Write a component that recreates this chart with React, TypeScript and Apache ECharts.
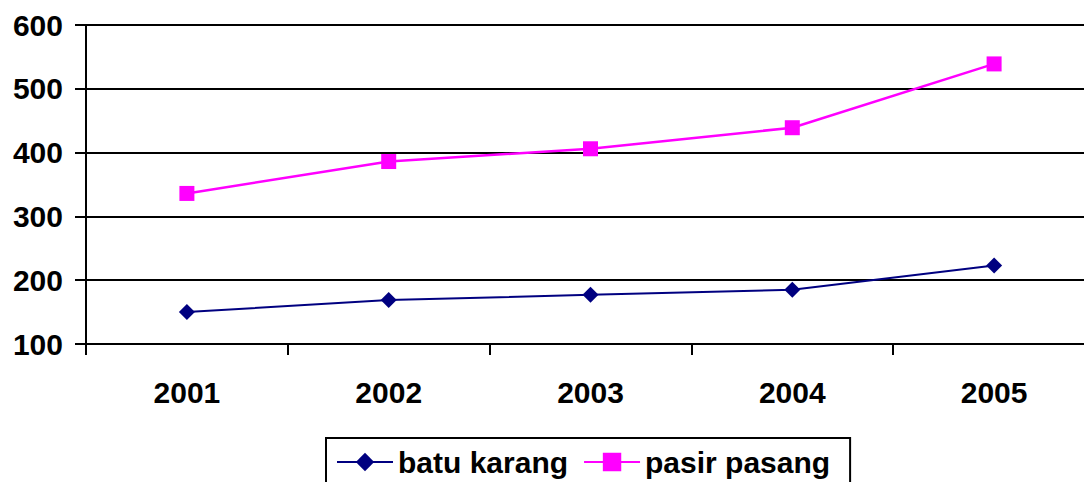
import React, { useEffect, useRef } from "react";
import * as echarts from "echarts";

const years = ["2001", "2002", "2003", "2004", "2005"];
const batuKarang = [150, 169, 177, 185, 223];
const pasirPasang = [336, 386, 406, 439, 539];
const yTicks = { min: 100, max: 600, interval: 100 };

const FONT = "'Liberation Sans', Arial, sans-serif";

export default function App() {
  const ref = useRef<HTMLDivElement>(null);
  useEffect(() => {
    document.body.style.margin = "0";
    const chart = echarts.init(ref.current!, null, { renderer: "svg" });
    chart.setOption({
      animation: false,
      backgroundColor: "#ffffff",
      grid: {
        left: 86,
        top: 25,
        width: 1009,
        bottom: 138,
        containLabel: false,
        outerBoundsMode: "none",
      },
      legend: {
        left: 326,
        top: 438,
        padding: [9, 20, 9, 10],
        itemWidth: 56,
        itemHeight: 23,
        itemGap: 15,
        borderColor: "#000",
        borderWidth: 2,
        textStyle: { fontFamily: FONT, fontSize: 30, fontWeight: "bold", color: "#000" },
        data: [
          { name: "batu karang" },
          { name: "pasir pasang" },
        ],
      },
      xAxis: {
        type: "category",
        data: years,
        boundaryGap: true,
        axisLine: { lineStyle: { color: "#000", width: 2 } },
        axisTick: { show: true, length: 11, lineStyle: { color: "#000", width: 2 } },
        axisLabel: { fontFamily: FONT, fontSize: 30, fontWeight: "bold", color: "#000", margin: 33 },
        splitLine: { show: false },
      },
      yAxis: {
        type: "value",
        min: yTicks.min,
        max: yTicks.max,
        interval: yTicks.interval,
        axisLine: { show: true, lineStyle: { color: "#000", width: 2 } },
        axisTick: { show: true, length: 11, lineStyle: { color: "#000", width: 2 } },
        axisLabel: { fontFamily: FONT, fontSize: 30, fontWeight: "bold", color: "#000", margin: 23 },
        splitLine: { show: true, lineStyle: { color: "#000", width: 2 } },
      },
      series: [
        {
          name: "batu karang",
          type: "line",
          data: batuKarang,
          symbol: "diamond",
          symbolSize: 16,
          itemStyle: { color: "#000080" },
          lineStyle: { color: "#000080", width: 2 },
        },
        {
          name: "pasir pasang",
          type: "line",
          data: pasirPasang,
          symbol: "rect",
          symbolSize: 15,
          itemStyle: { color: "#FF00FF" },
          lineStyle: { color: "#FF00FF", width: 2.5 },
        },
      ],
    });
    return () => chart.dispose();
  }, []);
  return <div ref={ref} style={{ position: "absolute", left: 0, top: 0, width: 1084, height: 482 }} />;
}
